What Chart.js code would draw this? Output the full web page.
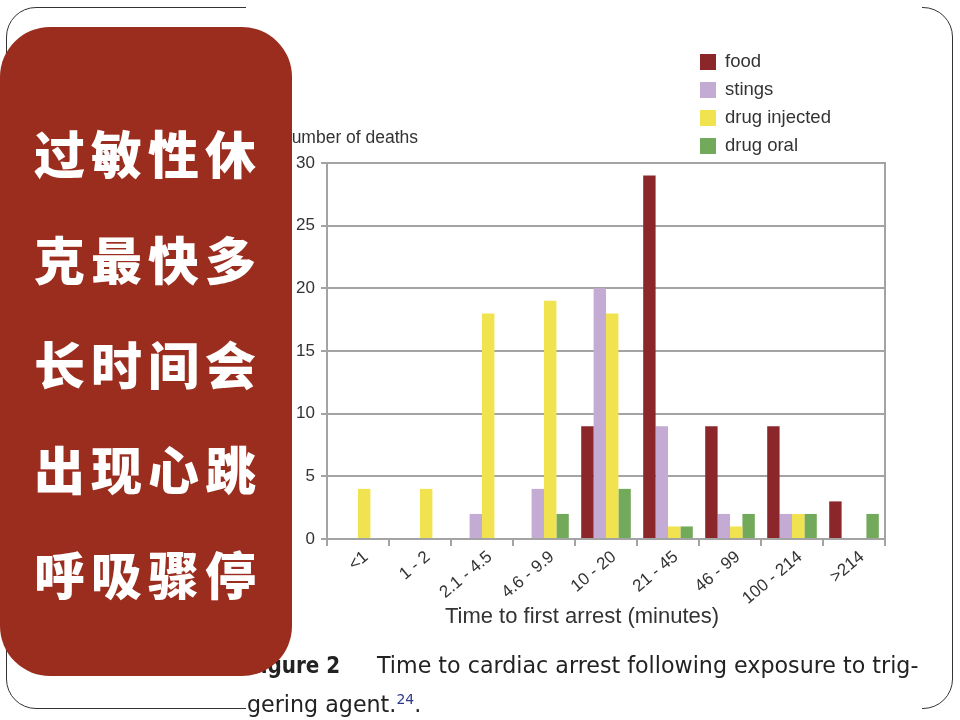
<!DOCTYPE html>
<html>
<head>
<meta charset="utf-8">
<script src="https://cdn.jsdelivr.net/npm/chart.js@4/dist/chart.umd.min.js"></script>
<style>
  html, body { margin: 0; padding: 0; background: #fff; }
  body { width: 960px; height: 720px; position: relative; overflow: hidden; }
  .frame { position: absolute; left: 6px; top: 7px; width: 945px; height: 700px; border: 1.5px solid #333; border-radius: 30px; }
  .cover { position: absolute; left: 246px; top: 0; width: 676px; height: 716px; background: #fff; }
  #month-chart { position: absolute; left: 0; top: 0; }
  .panel { position: absolute; left: 0; top: 27px; width: 292px; height: 649px; background: #9b2d1f; border-radius: 50px; }
  .panel div { position: absolute; left: 0; width: 296px; text-align: center; color: #fff; font-family: "Noto Sans CJK SC"; font-weight: 900; font-size: 51px; letter-spacing: 6px; line-height: 60px; }
  .cap { position: absolute; font-family: "DejaVu Sans"; font-size: 22.2px; color: #222; white-space: nowrap; line-height: 26px; }
  .cap b { font-family: "DejaVu Sans Condensed", "DejaVu Sans"; font-stretch: condensed; font-weight: bold; }
  .cap sup { color: #2b3a8c; font-size: 14px; }
</style>
</head>
<body>
<div class="frame"></div>
<div class="cover"></div>
<canvas id="month-chart" width="960" height="720"></canvas>
<div class="cap" style="left:247px; top:652px;"><b>Figure 2</b></div>
<div class="cap" style="left:377px; top:652px;">Time to cardiac arrest following exposure to trig-</div>
<div class="cap" style="left:247px; top:686px;">gering agent.<sup>24</sup>.</div>
<div class="panel">
  <div style="top:95px">过敏性休</div>
  <div style="top:201px">克最快多</div>
  <div style="top:306px">长时间会</div>
  <div style="top:411px">出现心跳</div>
  <div style="top:516px">呼吸骤停</div>
</div>
<script>
const labels = ['<1', '1 - 2', '2.1 - 4.5', '4.6 - 9.9', '10 - 20', '21 - 45', '46 - 99', '100 - 214', '>214'];
const food = [0, 0, 0, 0, 9, 29, 9, 9, 3];
const stings = [0, 0, 2, 4, 20, 9, 2, 2, 0];
const drugInjected = [4, 4, 18, 19, 18, 1, 1, 2, 0];
const drugOral = [0, 0, 0, 2, 4, 1, 2, 2, 2];
const yTitle = 'Number of deaths';
const xTitle = 'Time to first arrest (minutes)';

const gridColor = '#a3a3a3';
const textColor = '#333';
const fontFamily = '"Liberation Sans", Arial, sans-serif';

// legend, axis titles and right border of the plot
const extras = {
  id: 'extras',
  afterDraw(chart) {
    const {ctx, chartArea} = chart;
    ctx.save();
    ctx.strokeStyle = gridColor;
    ctx.lineWidth = 2;
    ctx.beginPath();
    ctx.moveTo(chartArea.right, chartArea.top - 1);
    ctx.lineTo(chartArea.right, chartArea.bottom);
    ctx.stroke();

    ctx.fillStyle = textColor;
    ctx.font = '17.5px ' + fontFamily;
    ctx.textBaseline = 'alphabetic';
    ctx.textAlign = 'left';
    ctx.fillText(yTitle, chartArea.left - 48, chartArea.top - 20);

    ctx.font = '22px ' + fontFamily;
    ctx.textAlign = 'center';
    ctx.fillText(xTitle, chartArea.left + 255, chartArea.bottom + 84);

    ctx.font = '18.5px ' + fontFamily;
    ctx.textAlign = 'left';
    chart.data.datasets.forEach((ds, i) => {
      const y = chartArea.top - 101 + i * 28;
      ctx.fillStyle = ds.backgroundColor;
      ctx.fillRect(chartArea.left + 373, y - 8, 16, 16);
      ctx.fillStyle = textColor;
      ctx.textBaseline = 'middle';
      ctx.fillText(ds.label, chartArea.left + 398, y);
    });
    ctx.restore();
  }
};

const ctx = document.getElementById('month-chart');

new Chart(ctx, {
  type: 'bar',
  data: {
    labels: labels,
    datasets: [
      {label: 'food', data: food, backgroundColor: '#8b272b'},
      {label: 'stings', data: stings, backgroundColor: '#c3abd3'},
      {label: 'drug injected', data: drugInjected, backgroundColor: '#f1e34f'},
      {label: 'drug oral', data: drugOral, backgroundColor: '#73a95b'}
    ]
  },
  options: {
    responsive: false,
    animation: false,
    categoryPercentage: 0.8,
    barPercentage: 1.0,
    layout: {
      padding: {left: 267, right: 75, top: 163, bottom: 89}
    },
    scales: {
      x: {
        afterFit: (scale) => { scale.height = 92; },
        grid: {
          drawOnChartArea: false,
          tickLength: 7,
          color: gridColor,
          lineWidth: 2,
          offset: true
        },
        border: {color: gridColor, width: 2},
        ticks: {
          color: textColor,
          maxRotation: 40,
          minRotation: 40,
          padding: 1,
          labelOffset: 8,
          font: {family: fontFamily, size: 17}
        }
      },
      y: {
        min: 0,
        max: 30,
        afterFit: (scale) => { scale.width = 60; },
        grid: {color: gridColor, lineWidth: 2, tickLength: 6},
        border: {color: gridColor, width: 2},
        ticks: {
          stepSize: 5,
          color: textColor,
          padding: 6,
          font: {family: fontFamily, size: 17}
        }
      }
    },
    plugins: {
      legend: {display: false},
      tooltip: {enabled: false}
    }
  },
  plugins: [extras]
});
</script>
</body>
</html>
